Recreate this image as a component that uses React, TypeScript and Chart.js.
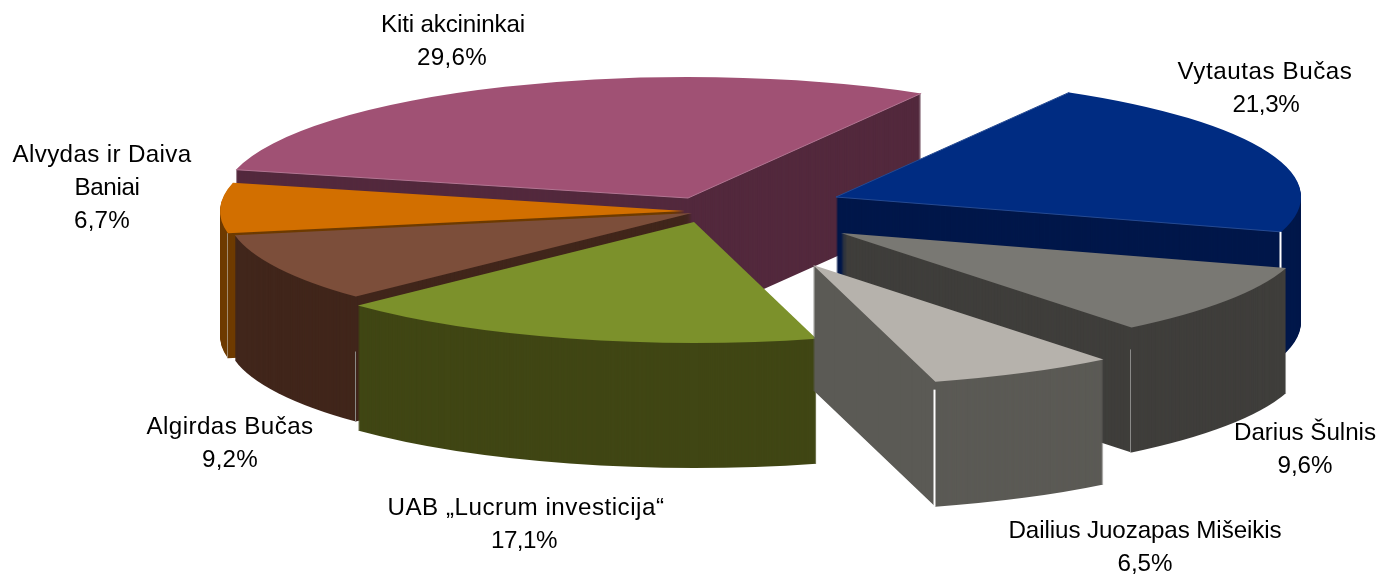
import React, { useEffect, useRef } from "react";
import { Chart, registerables } from "chart.js";

Chart.register(...registerables);

// ---- data (clockwise from the Vytautas slice) ----
const categories = [
  "Vytautas Bučas",
  "Darius Šulnis",
  "Dailius Juozapas Mišeikis",
  "UAB „Lucrum investicija“",
  "Algirdas Bučas",
  "Alvydas ir Daiva\nBaniai",
  "Kiti akcininkai",
];
const shares = [21.3, 9.6, 6.5, 17.1, 9.2, 6.7, 29.6];

// ---- styles ----
const topColors = ["#002c82", "#797873", "#b6b2ac", "#7c912b", "#7c4e3a", "#d26f00", "#a05174"];
const sideColors = ["#00174a", "#3f3e3b", "#5b5a55", "#404614", "#41261b", "#6e3b00", "#53293d"];
const seamColors = ["#ffffff", "#8a8a88", "#ffffff", "#404614", "#8a8a85", "#a08a70", "#53293d"];
const seamWidths = [2, 1, 2, 0, 1, 1, 0];
const seamSkips = [0, 22, 8, 0, 55, 0, 0];
const seamAtStart = [false, false, false, false, true, true, false];
const edgeColors = ["#254a92", null, null, null, null, null, "#b27592"];

// ---- pie projection and exploded apex of every slice (page pixels) ----
const rotationDeg = 30.1;
const pieRadius = 465;
const tilt = 0.26;
const depth = 125;
const apexX = [836, 841, 813, 694, 692, 685, 688];
const apexY = [197, 233, 265, 222, 213, 211, 198];
const paintOrder = [6, 0, 5, 4, 1, 3, 2];

// ---- label layout ----
const labelX = [1265, 1305, 1145, 526, 230, 102, 453];
const labelY = [72, 433, 531, 508, 427, 155, 25];
const lineGap = 33.3;
const labelFont = "24.2px 'Liberation Sans', Arial, sans-serif";
const nameWidths = [[175], [142], [273], [277], [167], [179, 65], [144]];
const shareWidths = [67, 55, 55, 66, 56, 56, 70];
const lineShifts = [[0, 1], [0, 0], [0, 0], [0, -2], [0, 0], [0, 5, 0], [0, -1]];

const pie3d = {
  id: "pie3d",
  beforeDatasetDraw(chart: any) {
    const ctx = chart.ctx;
    const arcs = chart.getDatasetMeta(0).data;
    const place = (a: any, i: number, down: number) => {
      ctx.translate(apexX[i], apexY[i] + down);
      ctx.scale(1, tilt);
      ctx.translate(-a.x, -a.y);
    };
    const corner = (arc: any, i: number, angle: number) => [
      apexX[i] + Math.cos(angle) * arc.outerRadius,
      apexY[i] + Math.sin(angle) * arc.outerRadius * tilt,
    ];
    paintOrder.forEach((i) => {
      const arc = arcs[i];
      const own = arc.options;
      arc.options = {
        backgroundColor: sideColors[i],
        borderColor: sideColors[i],
        borderWidth: 0,
        borderAlign: "center",
        borderRadius: 0,
        borderJoinStyle: "round",
        borderDash: [],
        borderDashOffset: 0,
        offset: 0,
        spacing: 0,
        circular: true,
      };
      for (let d = depth; d >= 1; d--) {
        ctx.save();
        place(arc, i, d);
        arc.draw(ctx);
        ctx.restore();
      }
      arc.options = own;
      ctx.save();
      place(arc, i, 0);
      arc.draw(ctx);
      ctx.restore();
      // fine light edge along the two straight sides of the top face
      const edge = edgeColors[i];
      if (edge) {
        const a = corner(arc, i, arc.startAngle);
        const b = corner(arc, i, arc.endAngle);
        ctx.save();
        ctx.strokeStyle = edge;
        ctx.lineWidth = 1;
        ctx.beginPath();
        ctx.moveTo(a[0], a[1]);
        ctx.lineTo(apexX[i], apexY[i]);
        ctx.lineTo(b[0], b[1]);
        ctx.stroke();
        ctx.restore();
      }
      // seam where the cut face meets the outer wall
      if (seamWidths[i] > 0) {
        const c = corner(arc, i, seamAtStart[i] ? arc.startAngle : arc.endAngle);
        const x = Math.round(c[0]) - 0.5;
        ctx.save();
        ctx.strokeStyle = seamColors[i];
        ctx.lineWidth = seamWidths[i];
        ctx.beginPath();
        ctx.moveTo(x, c[1] + seamSkips[i]);
        ctx.lineTo(x, c[1] + depth);
        ctx.stroke();
        ctx.restore();
      }
    });
    return false;
  },
  afterDraw(chart: any) {
    const ctx = chart.ctx;
    ctx.save();
    ctx.font = labelFont;
    ctx.fillStyle = "#000000";
    ctx.textAlign = "center";
    ctx.textBaseline = "middle";
    categories.forEach((name, i) => {
      const lines = name.split("\n");
      lines.push(shares[i].toFixed(1).replace(".", ",") + "%");
      const widths = [...nameWidths[i], shareWidths[i]];
      lines.forEach((line, k) => {
        ctx.letterSpacing = "0px";
        const natural = ctx.measureText(line).width;
        ctx.letterSpacing = (widths[k] - natural) / line.length + "px";
        ctx.fillText(line, labelX[i] + lineShifts[i][k], labelY[i] + k * lineGap);
      });
    });
    ctx.restore();
  },
};

export default function App() {
  const ref = useRef<HTMLCanvasElement>(null);
  useEffect(() => {
    const chart = new Chart(ref.current as HTMLCanvasElement, {
      type: "pie",
      data: {
        labels: categories,
        datasets: [
          {
            data: shares,
            backgroundColor: topColors,
            borderWidth: 0,
            radius: pieRadius,
          } as any,
        ],
      },
      options: {
        animation: false,
        responsive: false,
        rotation: rotationDeg,
        layout: { padding: 0 },
        plugins: { legend: { display: false }, tooltip: { enabled: false } },
      },
      plugins: [pie3d],
    });
    return () => chart.destroy();
  }, []);
  return (
    <div style={{ position: "absolute", left: 0, top: 0, width: 1378, height: 577 }}>
      <canvas ref={ref} width={1378} height={577} style={{ display: "block" }} />
    </div>
  );
}
